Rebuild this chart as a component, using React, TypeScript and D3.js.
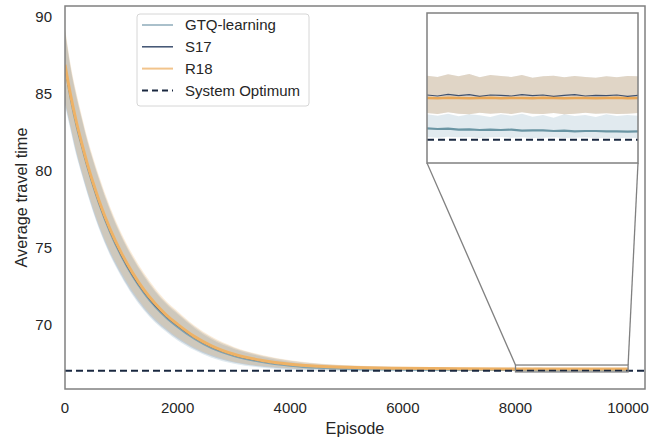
import * as d3 from 'd3'

// episodes sampled along the descent
const EP_HEAD = [0, 100, 200, 300, 400, 500, 600, 800, 1000, 1200, 1400, 1600, 1800, 2000, 2300, 2600, 3000, 3500, 4000, 4500, 5000, 6000, 7000]
const GTQ_HEAD = [86.65, 84.6, 82.9, 81.5, 80.15, 78.95, 77.85, 75.95, 74.4, 73.1, 72.02, 71.12, 70.4, 69.8, 69.03, 68.43, 67.92, 67.53, 67.29, 67.15, 67.08, 67.03, 67.01]
const S17_HEAD = [86.75, 84.75, 83.05, 81.6, 80.25, 79.05, 77.95, 76.05, 74.5, 73.2, 72.12, 71.22, 70.5, 69.9, 69.12, 68.52, 67.99, 67.6, 67.37, 67.25, 67.18, 67.13, 67.11]
const R18_HEAD = [86.9, 84.9, 83.2, 81.75, 80.4, 79.2, 78.1, 76.2, 74.65, 73.35, 72.25, 71.35, 70.6, 70.0, 69.2, 68.6, 68.05, 67.65, 67.4, 67.27, 67.2, 67.14, 67.11]
const SPREAD_HEAD = [2.4, 2.0, 1.9, 1.8, 1.7, 1.65, 1.6, 1.45, 1.3, 1.2, 1.1, 1.0, 0.9, 0.85, 0.72, 0.6, 0.48, 0.36, 0.26, 0.18, 0.14, 0.09, 0.07]

// converged tail (episodes 8000..10000, every 100)
const EP_TAIL = [8000, 8100, 8200, 8300, 8400, 8500, 8600, 8700, 8800, 8900, 9000, 9100, 9200, 9300, 9400, 9500, 9600, 9700, 9800, 9900, 10000]
const GTQ_TAIL = [67.004, 67.002, 67.003, 67.0, 67.001, 66.999, 67.0, 66.999, 67.0, 66.997, 66.998, 66.998, 66.996, 66.997, 66.995, 66.996, 66.996, 66.995, 66.995, 66.994, 66.995]
const GTQ_TAIL_HI = [67.046, 67.042, 67.048, 67.04, 67.046, 67.043, 67.038, 67.046, 67.042, 67.048, 67.039, 67.044, 67.036, 67.046, 67.041, 67.044, 67.038, 67.046, 67.041, 67.044, 67.042]
const GTQ_TAIL_LO = [66.978, 66.976, 66.979, 66.977, 66.978, 66.975, 66.977, 66.978, 66.976, 66.977, 66.975, 66.976, 66.977, 66.975, 66.976, 66.977, 66.975, 66.976, 66.974, 66.976, 66.975]
const S17_TAIL = [67.104, 67.101, 67.106, 67.102, 67.105, 67.1, 67.104, 67.103, 67.101, 67.105, 67.102, 67.104, 67.1, 67.103, 67.105, 67.101, 67.103, 67.102, 67.104, 67.1, 67.103]
const R18_TAIL = [67.095, 67.094, 67.096, 67.095, 67.094, 67.095, 67.096, 67.094, 67.095, 67.095, 67.094, 67.096, 67.095, 67.094, 67.095, 67.095, 67.094, 67.095, 67.096, 67.094, 67.095]
const BAND_TAIL_HI = [67.162, 67.158, 67.166, 67.16, 67.167, 67.157, 67.164, 67.161, 67.158, 67.164, 67.156, 67.16, 67.162, 67.157, 67.161, 67.158, 67.156, 67.16, 67.157, 67.161, 67.16]
const BAND_TAIL_LO = [67.05, 67.047, 67.052, 67.048, 67.046, 67.051, 67.048, 67.05, 67.047, 67.052, 67.048, 67.047, 67.05, 67.046, 67.048, 67.051, 67.048, 67.049, 67.047, 67.048, 67.05]

const SYSTEM_OPTIMUM = 66.97
const X_TICKS = [0, 2000, 4000, 6000, 8000, 10000]
const Y_TICKS = [70, 75, 80, 85, 90]
const ZOOM_X = [8000, 10000]
const ZOOM_Y = [66.9, 67.35]

const LEGEND = [
  { label: 'GTQ-learning', color: '#8eabba', width: 1.5, dash: null },
  { label: 'S17', color: '#3e5170', width: 1.5, dash: null },
  { label: 'R18', color: '#f2c48c', width: 2, dash: null },
  { label: 'System Optimum', color: '#1a2840', width: 2, dash: '6,4' },
]

type Pt = { ep: number; mean: number; lo: number; hi: number }

function build(head: number[], spread: number[], tail: number[], tailLo: number[], tailHi: number[]): Pt[] {
  const a = EP_HEAD.map((ep, i) => ({ ep, mean: head[i], lo: head[i] - spread[i], hi: head[i] + spread[i] }))
  const b = EP_TAIL.map((ep, i) => ({ ep, mean: tail[i], lo: tailLo[i], hi: tailHi[i] }))
  return a.concat(b)
}

const gtq = build(GTQ_HEAD, SPREAD_HEAD, GTQ_TAIL, GTQ_TAIL_LO, GTQ_TAIL_HI)
const s17 = build(S17_HEAD, SPREAD_HEAD, S17_TAIL, BAND_TAIL_LO, BAND_TAIL_HI)
const r18 = build(R18_HEAD, SPREAD_HEAD, R18_TAIL, BAND_TAIL_LO, BAND_TAIL_HI)

const SERIES = [
  { data: gtq, band: '#8fb3c4', bandOp: 0.27, line: '#7ea2b2', lw: 1.5, insetLine: '#6a95a4', insetLw: 2.2 },
  { data: s17, band: '#4b5d78', bandOp: 0.2, line: '#3e5170', lw: 1.2, insetLine: '#3e5170', insetLw: 1.2 },
  { data: r18, band: '#f0b66c', bandOp: 0.25, line: '#eeb266', lw: 3, insetLine: '#e9a654', insetLw: 2.5 },
]

const W = 669
const H = 440
const FONT = '"Liberation Sans", Arial, sans-serif'

export default function App() {
  const left = 65, right = 645, top = 6, bottom = 389
  const x = d3.scaleLinear().domain([0, 10300]).range([left, right])
  const y = d3.scaleLinear().domain([65.79, 90.72]).range([bottom, top])

  const ix = d3.scaleLinear().domain(ZOOM_X).range([427, 638])
  const iy = d3.scaleLinear().domain(ZOOM_Y).range([163, 13])

  const area = d3.area<Pt>().x(d => x(d.ep)).y0(d => y(d.lo)).y1(d => y(d.hi)).curve(d3.curveMonotoneX)
  const line = d3.line<Pt>().x(d => x(d.ep)).y(d => y(d.mean)).curve(d3.curveMonotoneX)
  const insetLine = d3.line<Pt>().x(d => ix(d.ep)).y(d => iy(d.mean)).curve(d3.curveLinear)
  const insetArea = d3.area<Pt>().x(d => ix(d.ep)).y0(d => iy(d.lo)).y1(d => iy(d.hi)).curve(d3.curveLinear)

  const zx0 = x(ZOOM_X[0]), zx1 = x(ZOOM_X[1])
  const zy0 = y(ZOOM_Y[1]), zy1 = y(ZOOM_Y[0])

  return (
    <div style={{ position: 'absolute', left: 0, top: 0 }}>
      <svg width={W} height={H} style={{ display: 'block', background: '#fff' }} fontFamily={FONT}>
        <defs>
          <clipPath id="mainClip"><rect x={left} y={top} width={right - left} height={bottom - top} /></clipPath>
          <clipPath id="insetClip"><rect x={427} y={13} width={211} height={150} /></clipPath>
        </defs>

        <g clipPath="url(#mainClip)">
          {SERIES.map((s, i) => (
            <path key={'b' + i} d={area(s.data)} fill={s.band} fillOpacity={s.bandOp} />
          ))}
          {SERIES.map((s, i) => (
            <path key={'l' + i} d={line(s.data)} fill="none" stroke={s.line} strokeWidth={s.lw} />
          ))}
          <line x1={left} x2={right} y1={y(SYSTEM_OPTIMUM)} y2={y(SYSTEM_OPTIMUM)} stroke="#1a2840" strokeWidth={2} strokeDasharray="7,4" />
        </g>

        {/* zoom region and connectors */}
        <rect x={zx0} y={zy0} width={zx1 - zx0} height={zy1 - zy0} fill="none" stroke="#808080" strokeWidth={1.3} />
        <line x1={427} y1={163} x2={zx0} y2={zy0} stroke="#808080" strokeWidth={1.3} />
        <line x1={638} y1={163} x2={zx1} y2={zy0} stroke="#808080" strokeWidth={1.3} />

        {/* main frame */}
        <rect x={left} y={top} width={right - left} height={bottom - top} fill="none" stroke="#808080" strokeWidth={1.5} />

        {Y_TICKS.map(t => (
          <text key={t} x={52} y={y(t)} dy="0.35em" textAnchor="end" fontSize={15} fill="#262626">{t}</text>
        ))}
        {X_TICKS.map(t => (
          <text key={t} x={x(t)} y={408} dy="0.35em" textAnchor="middle" fontSize={15} fill="#262626">{t}</text>
        ))}
        <text x={(left + right) / 2} y={428} dy="0.35em" textAnchor="middle" fontSize={16.3} fill="#262626">Episode</text>
        <text transform={`translate(21,${(top + bottom) / 2}) rotate(-90)`} textAnchor="middle" dy="0.35em" fontSize={16.3} fill="#262626">Average travel time</text>

        {/* inset */}
        <rect x={427} y={13} width={211} height={150} fill="#fff" />
        <g clipPath="url(#insetClip)">
          {SERIES.map((s, i) => (
            <path key={'ib' + i} d={insetArea(s.data.filter(d => d.ep >= 8000))} fill={s.band} fillOpacity={s.bandOp} />
          ))}
          {SERIES.map((s, i) => (
            <path key={'il' + i} d={insetLine(s.data.filter(d => d.ep >= 8000))} fill="none" stroke={s.insetLine} strokeWidth={s.insetLw} />
          ))}
          <line x1={427} x2={638} y1={iy(SYSTEM_OPTIMUM)} y2={iy(SYSTEM_OPTIMUM)} stroke="#1a2840" strokeWidth={2} strokeDasharray="7,4" />
        </g>
        <rect x={427} y={13} width={211} height={150} fill="none" stroke="#808080" strokeWidth={1.5} />

        {/* legend */}
        <rect x={137} y={14} width={172} height={92} rx={3} fill="#fff" fillOpacity={0.85} stroke="#d6d6d6" strokeWidth={1} />
        {LEGEND.map((l, i) => (
          <g key={l.label} transform={`translate(0,${25 + i * 21.8})`}>
            <line x1={142} x2={173} y1={0} y2={0} stroke={l.color} strokeWidth={l.width} strokeDasharray={l.dash ?? undefined} />
            <text x={185} y={0} dy="0.35em" fontSize={15} fill="#262626">{l.label}</text>
          </g>
        ))}
      </svg>
    </div>
  )
}
